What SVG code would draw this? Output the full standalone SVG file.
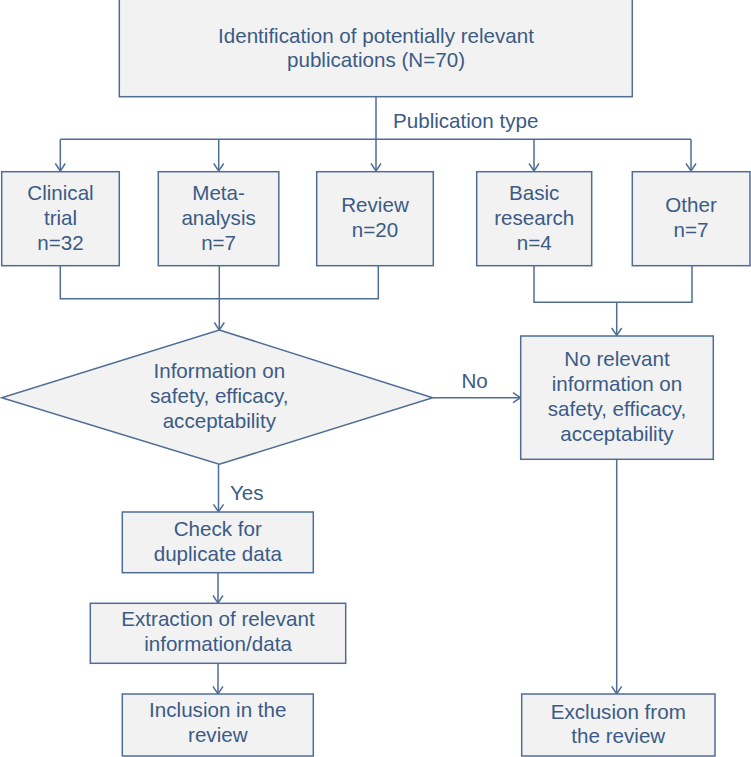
<svg xmlns="http://www.w3.org/2000/svg" width="751" height="757" viewBox="0 0 751 757">
<style>
.box{fill:#f2f2f2;stroke:#4f6d95;stroke-width:1.5}
.t{font-family:"Liberation Sans",Arial,sans-serif;font-size:20.6px;fill:#3b5b86;text-anchor:middle}
.ts{font-family:"Liberation Sans",Arial,sans-serif;font-size:20.6px;fill:#3b5b86}
.c{fill:none;stroke:#4f6d95;stroke-width:1.5}
.a{marker-end:url(#arr)}
</style>
<defs>
<marker id="arr" markerUnits="userSpaceOnUse" markerWidth="14" markerHeight="14" viewBox="-8 -7 10 14" refX="0" refY="0" orient="auto" overflow="visible">
<path d="M-7.5,-5 L0,0 L-7.5,5" fill="none" stroke="#4f6d95" stroke-width="1.5"/>
</marker>
</defs>
<rect width="751" height="757" fill="#ffffff"/>
<g id="connectors">
<path class="c" d="M376,96.7 V139.3"/>
<path class="c" d="M60.3,139.3 H691"/>
<path class="c a" d="M60.3,139.3 V171"/>
<path class="c a" d="M218.7,139.3 V171"/>
<path class="c a" d="M376,139.3 V171"/>
<path class="c a" d="M534,139.3 V171"/>
<path class="c a" d="M691,139.3 V171"/>
<path class="c" d="M60.3,265.7 V298.7 H378.3 V265.7"/>
<path class="c a" d="M219.3,265.7 V330"/>
<path class="c" d="M534,265.7 V302.3 H692 V265.7"/>
<path class="c a" d="M616.7,302.3 V335.5"/>
<path class="c a" d="M432.7,397.7 H520.5"/>
<path class="c a" d="M218.5,464.3 V511.8"/>
<path class="c a" d="M218,572.7 V603"/>
<path class="c a" d="M218,663.3 V693.8"/>
<path class="c a" d="M616.7,459.3 V693.8"/>
<text class="ts" x="393" y="128">Publication type</text>
<text class="ts" x="461.5" y="388">No</text>
<text class="ts" x="230" y="500">Yes</text>
</g>
<g id="top">
<rect class="box" x="119.3" y="-1" width="513" height="97.7"/>
<text class="t" x="376" y="43">Identification of potentially relevant</text>
<text class="t" x="376" y="67">publications (N=70)</text>
</g>
<g id="clinical">
<rect class="box" x="1.7" y="171.7" width="117.6" height="94"/>
<text class="t" x="60.5" y="200">Clinical</text>
<text class="t" x="60.5" y="225">trial</text>
<text class="t" x="60.5" y="250">n=32</text>
</g>
<g id="meta">
<rect class="box" x="158.3" y="171.7" width="120.5" height="94"/>
<text class="t" x="218.6" y="200">Meta-</text>
<text class="t" x="218.6" y="225">analysis</text>
<text class="t" x="218.6" y="250">n=7</text>
</g>
<g id="review">
<rect class="box" x="316.7" y="171.7" width="116.6" height="94"/>
<text class="t" x="375" y="212">Review</text>
<text class="t" x="375" y="237">n=20</text>
</g>
<g id="basic">
<rect class="box" x="476.7" y="171.7" width="115" height="94"/>
<text class="t" x="534.2" y="200">Basic</text>
<text class="t" x="534.2" y="225">research</text>
<text class="t" x="534.2" y="250">n=4</text>
</g>
<g id="other">
<rect class="box" x="632.3" y="171.7" width="117.7" height="94"/>
<text class="t" x="691" y="212">Other</text>
<text class="t" x="691" y="237">n=7</text>
</g>
<g id="decision">
<polygon class="box" points="219.3,330 432.7,397.7 219.3,464.3 1.7,397.7"/>
<text class="t" x="219.3" y="378">Information on</text>
<text class="t" x="219.3" y="403">safety, efficacy,</text>
<text class="t" x="219.3" y="428">acceptability</text>
</g>
<g id="norelevant">
<rect class="box" x="520.7" y="336" width="192.6" height="123.3"/>
<text class="t" x="617" y="366">No relevant</text>
<text class="t" x="617" y="391">information on</text>
<text class="t" x="617" y="416">safety, efficacy,</text>
<text class="t" x="617" y="441">acceptability</text>
</g>
<g id="check">
<rect class="box" x="122.3" y="512" width="191" height="60.7"/>
<text class="t" x="217.8" y="536">Check for</text>
<text class="t" x="217.8" y="561">duplicate data</text>
</g>
<g id="extraction">
<rect class="box" x="90.3" y="603.3" width="255.4" height="60"/>
<text class="t" x="218" y="626">Extraction of relevant</text>
<text class="t" x="218" y="650.7">information/data</text>
</g>
<g id="inclusion">
<rect class="box" x="122.3" y="694" width="191" height="62"/>
<text class="t" x="217.8" y="717.3">Inclusion in the</text>
<text class="t" x="217.8" y="741.7">review</text>
</g>
<g id="exclusion">
<rect class="box" x="521.7" y="694" width="193.3" height="62"/>
<text class="t" x="618.3" y="719.3">Exclusion from</text>
<text class="t" x="618.3" y="743.3">the review</text>
</g>
</svg>
